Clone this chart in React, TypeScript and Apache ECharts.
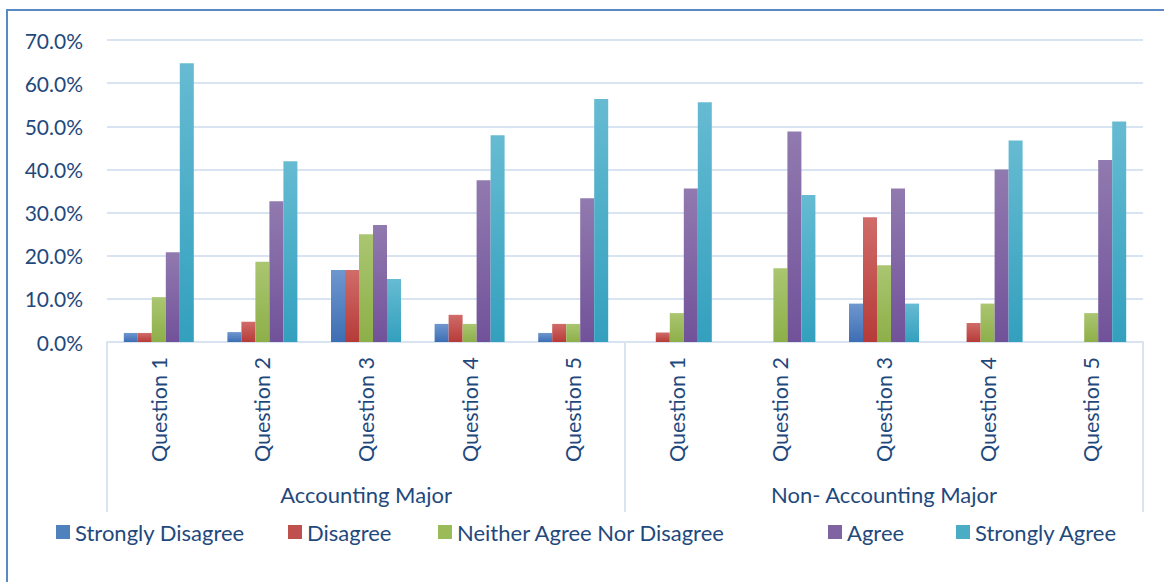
import React, { useEffect, useRef } from "react";
import * as echarts from "echarts";

const questions = ["Question 1", "Question 2", "Question 3", "Question 4", "Question 5", "Question 1", "Question 2", "Question 3", "Question 4", "Question 5"];
const groups = ["Accounting Major", "Non- Accounting Major"];
const yTicks = [0, 10, 20, 30, 40, 50, 60, 70];

const stronglyDisagree = [2.1, 2.3, 16.7, 4.2, 2.1, 0, 0, 8.9, 0, 0];
const disagree = [2.1, 4.7, 16.7, 6.3, 4.2, 2.2, 0, 28.9, 4.4, 0];
const neither = [10.4, 18.6, 25.0, 4.2, 4.2, 6.7, 17.1, 17.8, 8.9, 6.7];
const agree = [20.8, 32.6, 27.1, 37.5, 33.3, 35.6, 48.8, 35.6, 40.0, 42.2];
const stronglyAgree = [64.6, 41.9, 14.6, 47.9, 56.3, 55.6, 34.1, 8.9, 46.7, 51.1];

const seriesNames = ["Strongly Disagree", "Disagree", "Neither Agree Nor Disagree", "Agree", "Strongly Agree"];
const seriesData = [stronglyDisagree, disagree, neither, agree, stronglyAgree];
const colorsTop = ["#6F97CF", "#D06C69", "#AAC671", "#917AAF", "#66BBD2"];
const colorsBottom = ["#3D6EB3", "#B63B38", "#8DAF48", "#71529A", "#33A0BE"];
const legendColors = ["#4F81BD", "#C0504D", "#9BBB59", "#8064A2", "#4BACC6"];
const legendLeft = [56, 288, 438, 828, 956];

const FONT = "Lato, 'Open Sans', sans-serif";
const TEXT = "#1F497D";
const GRID = "#D9E4F3";

export default function App() {
  const ref = useRef<HTMLDivElement>(null);
  useEffect(() => {
    if (!ref.current) return;
    const chart = echarts.init(ref.current, null, { renderer: "svg" });
    const option: any = {
      animation: false,
      backgroundColor: "transparent",
      textStyle: { fontFamily: FONT },
      grid: { left: 107, right: 21, top: 40, bottom: 240, containLabel: false },
      legend: seriesNames.map((n, i) => ({
        data: [{ name: n, itemStyle: { color: legendColors[i] } }],
        left: legendLeft[i],
        top: 520,
        padding: 0,
        itemWidth: 14,
        itemHeight: 14,
        icon: "rect",
        itemGap: 0,
        textStyle: { fontFamily: FONT, fontSize: 22, lineHeight: 24, color: TEXT },
        selectedMode: false,
      })),
      xAxis: [
        {
          type: "category",
          data: questions,
          position: "bottom",
          axisLine: { show: true, lineStyle: { color: GRID, width: 2 } },
          axisTick: { show: false },
          axisLabel: { rotate: 90, margin: 15, fontSize: 21.5, color: TEXT, fontFamily: FONT, interval: 0 },
          splitLine: { show: false },
        },
        {
          type: "category",
          data: groups,
          position: "bottom",
          offset: 0,
          axisLine: { show: false },
          axisTick: { show: true, length: 170, interval: 0, lineStyle: { color: GRID, width: 2 } },
          axisLabel: { margin: 141, fontSize: 22, color: TEXT, fontFamily: FONT, interval: 0 },
          splitLine: { show: false },
        },
      ],
      yAxis: {
        type: "value",
        min: yTicks[0],
        max: yTicks[yTicks.length - 1],
        interval: 10,
        axisLine: { show: false },
        axisTick: { show: false },
        axisLabel: { margin: 24, fontSize: 21, color: TEXT, fontFamily: FONT, formatter: (v: number) => v.toFixed(1) + "%" },
        splitLine: { show: true, lineStyle: { color: GRID, width: 2 } },
      },
      series: seriesNames.map((n, i) => ({
        name: n,
        type: "bar",
        xAxisIndex: 0,
        data: seriesData[i],
        barWidth: 14,
        barGap: "0%",
        itemStyle: {
          color: new echarts.graphic.LinearGradient(0, 0, 0, 1, [
            { offset: 0, color: colorsTop[i] },
            { offset: 1, color: colorsBottom[i] },
          ]),
        },
      })),
    };
    chart.setOption(option);
    return () => chart.dispose();
  }, []);
  return (
    <div style={{ position: "fixed", left: 0, top: 0, width: 1164, height: 582, background: "#fff", overflow: "hidden" }}>
      <div style={{ position: "absolute", left: 6, top: 9, width: 1300, height: 800, border: "2px solid #5A89C5", boxSizing: "border-box" }} />
      <div ref={ref} style={{ position: "absolute", left: 0, top: 0, width: 1164, height: 582 }} />
    </div>
  );
}
